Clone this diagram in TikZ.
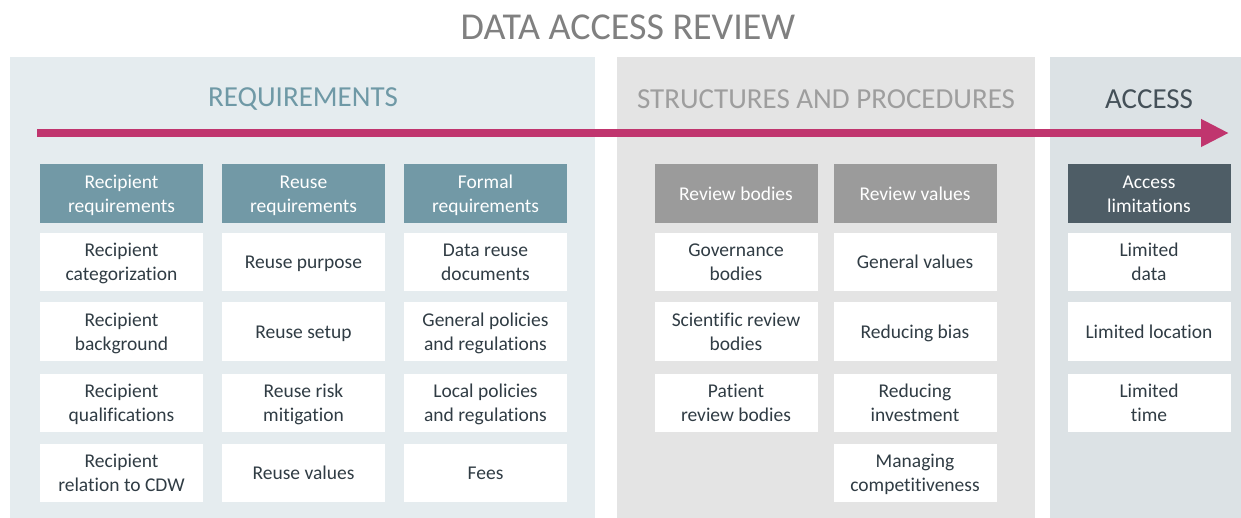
\documentclass[tikz,border=0pt]{standalone}
\usepackage{fontspec}
\setmainfont{Carlito}[Ligatures=NoCommon]
\usetikzlibrary{arrows.meta}

\definecolor{reqbg}{RGB}{229,236,239}
\definecolor{procbg}{RGB}{228,228,228}
\definecolor{accbg}{RGB}{220,226,229}
\definecolor{reqhead}{RGB}{114,153,166}
\definecolor{prochead}{RGB}{155,155,155}
\definecolor{acchead}{RGB}{78,93,102}
\definecolor{titlegray}{RGB}{128,128,128}
\definecolor{reqtitle}{RGB}{111,153,166}
\definecolor{proctitle}{RGB}{158,158,158}
\definecolor{acctitle}{RGB}{68,80,88}
\definecolor{itemtext}{RGB}{48,60,68}
\definecolor{flow}{RGB}{192,53,110}

\tikzset{
  sectitle/.style={inner sep=0pt, yshift=-2pt, font=\fontsize{29}{34}\selectfont},
  colhead/.style={inner sep=0pt, minimum width=163, minimum height=59,
    text=white, align=center, font=\fontsize{19.5}{24}\selectfont},
  item/.style={inner sep=0pt, minimum width=163, minimum height=58, fill=white,
    text=itemtext, align=center, font=\fontsize{19.5}{24}\selectfont},
  flowarrow/.style={draw=flow, line width=8, -{Triangle[length=28, width=26]}}
}
% set label text a little lower in its box, keeping the box size unchanged
\newcommand{\lowered}[1]{\raisebox{-2pt}[\height][\depth]{\begin{tabular}{@{}c@{}}#1\end{tabular}}}

\begin{document}
\begin{tikzpicture}[x=1pt, y=-1pt]
\useasboundingbox (0,0) rectangle (1241,518);

% background panels
\fill[reqbg] (10,57) rectangle (595,518);
\fill[procbg] (617,57) rectangle (1035,518);
\fill[accbg] (1050,57) rectangle (1241,518);

% main title
\node[inner sep=0pt, text=titlegray, font=\fontsize{38}{44}\selectfont] (title) at (628,27) {DATA ACCESS REVIEW};

% section titles
\node[sectitle, text=reqtitle] (sreq) at (303,97) {REQUIREMENTS};
\node[sectitle, text=proctitle] (sproc) at (826,97) {STRUCTURES AND PROCEDURES};
\node[sectitle, text=acctitle] (sacc) at (1149,97) {ACCESS};

% process arrow
\coordinate (flowstart) at (37,133);
\coordinate (flowend) at (1229,133);
\draw[flowarrow] (flowstart) -- (flowend);

% requirements columns
\node[colhead, fill=reqhead] (h1) at (121.5,193.5) {\lowered{Recipient\\requirements}};
\node[colhead, fill=reqhead] (h2) at (303.5,193.5) {\lowered{Reuse\\requirements}};
\node[colhead, fill=reqhead] (h3) at (485.5,193.5) {\lowered{Formal\\requirements}};

\node[item] (a1) at (121.5,262) {\lowered{Recipient\\categorization}};
\node[item] (a2) at (121.5,331.5) {\lowered{Recipient\\background}};
\node[item] (a3) at (121.5,402.5) {\lowered{Recipient\\qualifications}};
\node[item] (a4) at (121.5,473) {\lowered{Recipient\\relation to CDW}};

\node[item] (b1) at (303.5,262) {\lowered{Reuse purpose}};
\node[item] (b2) at (303.5,331.5) {\lowered{Reuse setup}};
\node[item] (b3) at (303.5,402.5) {\lowered{Reuse risk\\mitigation}};
\node[item] (b4) at (303.5,473) {\lowered{Reuse values}};

\node[item] (c1) at (485.5,262) {\lowered{Data reuse\\documents}};
\node[item] (c2) at (485.5,331.5) {\lowered{General policies\\and regulations}};
\node[item] (c3) at (485.5,402.5) {\lowered{Local policies\\and regulations}};
\node[item] (c4) at (485.5,473) {\lowered{Fees}};

% structures and procedures columns
\node[colhead, fill=prochead] (h4) at (736,193.5) {\lowered{Review bodies}};
\node[colhead, fill=prochead] (h5) at (915,193.5) {\lowered{Review values}};

\node[item] (d1) at (736,262) {\lowered{Governance\\bodies}};
\node[item] (d2) at (736,331.5) {\lowered{Scientific review\\bodies}};
\node[item] (d3) at (736,402.5) {\lowered{Patient\\review bodies}};

\node[item] (e1) at (915,262) {\lowered{General values}};
\node[item] (e2) at (915,331.5) {\lowered{Reducing bias}};
\node[item] (e3) at (915,402.5) {\lowered{Reducing\\investment}};
\node[item] (e4) at (915,473) {\lowered{Managing\\competitiveness}};

% access column
\node[colhead, fill=acchead] (h6) at (1149,193.5) {\lowered{Access\\limitations}};

\node[item] (f1) at (1149,262) {\lowered{Limited\\data}};
\node[item] (f2) at (1149,331.5) {\lowered{Limited location}};
\node[item] (f3) at (1149,402.5) {\lowered{Limited\\time}};
\end{tikzpicture}
\end{document}
